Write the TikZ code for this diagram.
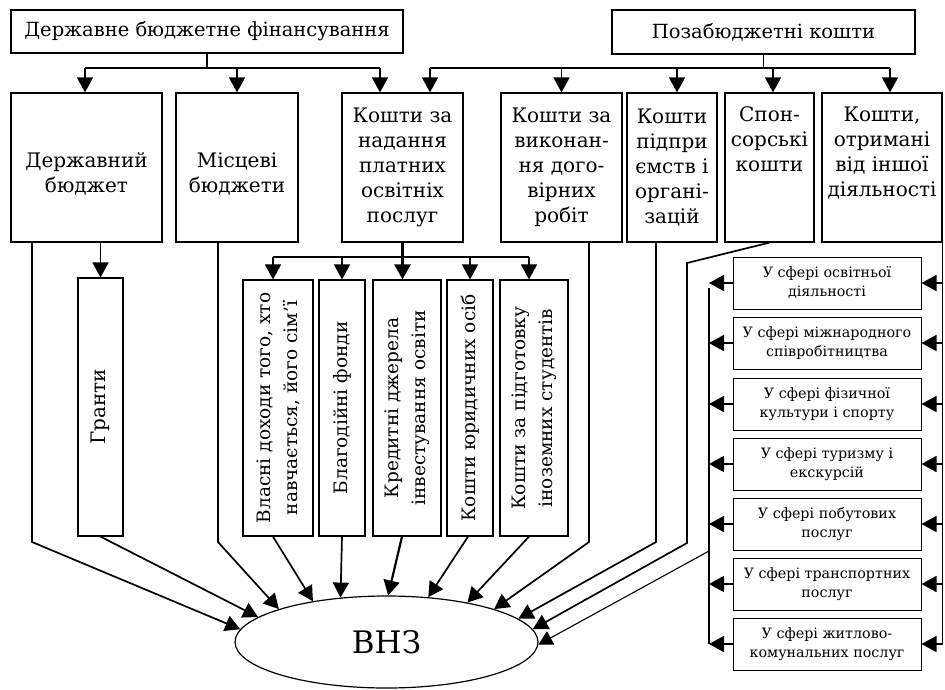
\documentclass[tikz,border=0pt]{standalone}
\usepackage{fontspec}
\setmainfont{DejaVu Serif}
\usetikzlibrary{arrows.meta,shapes.geometric}
\newcommand{\lowtwo}[2]{\raisebox{-13pt}[0pt][0pt]{\begin{tabular}{@{}c@{}}#1\\#2\end{tabular}}}
\begin{document}
\begin{tikzpicture}[x=1pt,y=-1pt,
  box/.style={draw, line width=1.2pt, inner sep=0pt, align=center, font=\fontsize{20}{25}\selectfont},
  tbox/.style={draw, line width=1.2pt, inner sep=0pt, align=center, font=\fontsize{19.5}{24}\selectfont},
  rbox/.style={draw, line width=1.2pt, inner sep=0pt, align=center, rotate=90, minimum width=256pt, font=\fontsize{18.5}{27}\selectfont},
  sbox/.style={draw, line width=1pt, inner sep=0pt, align=center, font=\fontsize{14.3}{19}\selectfont, minimum width=188pt, minimum height=52pt},
  ln/.style={line width=1.7pt},
  arr/.style={line width=1.7pt, -{Triangle[length=15pt,width=16pt]}},
  tarr/.style={line width=1.1pt, -{Triangle[length=14pt,width=15pt]}},
]
\useasboundingbox (0,0) rectangle (945,689);

% top sources
\node[tbox, minimum width=392pt, minimum height=43pt] (t1) at (207,31.5) {Державне бюджетне фінансування};
\node[tbox, minimum width=303pt, minimum height=44pt] (t2) at (763.5,32) {Позабюджетні кошти};

% main row
\node[box, minimum width=151pt, minimum height=149pt] (b1) at (86.5,167.5) {\lowtwo{Державний}{бюджет}};
\node[box, minimum width=122pt, minimum height=149pt] (b2) at (237,167.5) {\lowtwo{Місцеві}{бюджети}};
\node[box, minimum width=121pt, minimum height=149pt] (b3) at (402.5,167.5) {Кошти за\\надання\\платних\\освітніх\\послуг};
\node[box, minimum width=121pt, minimum height=149pt] (b4) at (561.5,167.5) {Кошти за\\виконан-\\ня дого-\\вірних\\робіт};
\node[box, minimum width=90pt, minimum height=149pt] (b5) at (672,167.5) {Кошти\\підпри\\ємств і\\органі-\\зацій};
\node[box, minimum width=89pt, minimum height=149pt] (b6) at (769.5,167.5) {Спон-\\сорські\\кошти\\\strut\\\strut};
\node[box, minimum width=120pt, minimum height=149pt] (b7) at (882,167.5) {Кошти,\\отримані\\від іншої\\діяльності\\\strut};

% rotated boxes
\node[rbox, minimum width=258pt, minimum height=45pt, font=\fontsize{20}{25}\selectfont] (gr) at (100.5,407) {Гранти};
\node[rbox, minimum height=70pt] (sA) at (278,408) {Власні доходи того, хто\\навчається, його сім’ї};
\node[rbox, minimum height=46pt] (sB) at (342,408) {Благодійні фонди};
\node[rbox, minimum height=68pt] (sC) at (407,408) {Кредитні джерела\\інвестування освіти};
\node[rbox, minimum height=46pt] (sD) at (470,408) {Кошти юридичних осіб};
\node[rbox, minimum height=68pt] (sE) at (534,408) {Кошти за підготовку\\іноземних студентів};

% right column
\node[sbox] (r1) at (827,283) {У сфері освітньої\\діяльності};
\node[sbox] (r2) at (827,343) {У сфері міжнародного\\співробітництва};
\node[sbox] (r3) at (827,404) {У сфері фізичної\\культури і спорту};
\node[sbox] (r4) at (827,464) {У сфері туризму і\\екскурсій};
\node[sbox] (r5) at (827,524) {У сфері побутових\\послуг};
\node[sbox] (r6) at (827,584) {У сфері транспортних\\послуг};
\node[sbox] (r7) at (827,644) {У сфері житлово-\\комунальних послуг};

% target
\node[ellipse, draw, line width=1.2pt, minimum width=303pt, minimum height=92pt, inner sep=0pt, font=\fontsize{31}{31}\selectfont] (vnz) at (386.5,642) {ВНЗ};

% left top bus
\coordinate (j1) at (207,68);
\coordinate (bl) at (85,68);
\coordinate (br) at (380,68);
\draw[ln] (t1.south) -- (j1);
\draw[ln] (bl) -- (br);
\draw[arr] (bl) -- (bl |- b1.north);
\draw[arr] (b2.north |- j1) -- (b2.north);
\draw[arr] (br) -- (br |- b3.north);

% right top bus
\coordinate (j2) at (763.5,68);
\coordinate (cl) at (430,68);
\coordinate (c5) at (677,68);
\coordinate (c6) at (773,68);
\coordinate (cr) at (890,68);
\draw[ln] (t2.south) -- (j2);
\draw[ln] (cl) -- (cr);
\draw[arr] (cl) -- (cl |- b3.north);
\draw[arr] (b4.north |- j2) -- (b4.north);
\draw[arr] (c5) -- (c5 |- b5.north);
\draw[arr] (c6) -- (c6 |- b6.north);
\draw[arr] (cr) -- (cr |- b7.north);

% grants
\draw[arr] (b1.south -| gr.east) -- (gr.east);

% bus under b3
\coordinate (k) at (402.5,257);
\coordinate (kl) at (273,257);
\coordinate (kr) at (529,257);
\draw[line width=2.6pt] (b3.south) -- (k);
\draw[ln] (kl) -- (kr);
\draw[arr] (kl) -- (kl |- sA.east);
\draw[arr] (sB.east |- k) -- (sB.east);
\draw[arr, line width=2.4pt] (k) -- (k |- sC.east);
\draw[arr] (sD.east |- k) -- (sD.east);
\draw[arr] (kr) -- (kr |- sE.east);

% flows into VNZ
\coordinate (p1) at (32,542);
\coordinate (p3) at (218,542);
\coordinate (p9) at (589,542);
\coordinate (p10) at (656,542);
\coordinate (q1) at (687,263);
\coordinate (q2) at (687,543);
\draw[arr] (b1.south -| p1) -- (p1) -- (vnz.175.3);
\draw[arr] (gr.west) -- (vnz.169.4);
\draw[arr] (b2.south -| p3) -- (p3) -- (vnz.163.3);
\draw[arr] ([xshift=-5pt]sA.west) -- (vnz.151.2);
\draw[arr] (sB.west) -- (vnz.136.7);
\draw[arr, line width=2.2pt] ([xshift=-5pt]sC.west) -- (vnz.88.2);
\draw[arr] ([xshift=-2pt]sD.west) -- (vnz.47.1);
\draw[arr] ([xshift=-5pt]sE.west) -- (vnz.26.7);
\draw[arr] (b4.south -| p9) -- (p9) -- (vnz.17.4);
\draw[arr] (b5.south -| p10) -- (p10) -- (vnz.10.6);
\draw[arr] (b6.south) -- (q1) -- (q2) -- (vnz.5.8);

% right column buses
\coordinate (lbt) at (709,288);
\coordinate (lbj) at (709,551);
\draw[ln] (lbt) -- (lbt |- r7.west);
\draw[ln] (b7.south east) -- (b7.south east |- r7.east);
\foreach \i in {1,...,7} {
  \draw[arr] (r\i.west) -- (r\i.west -| lbt);
  \draw[arr] (r\i.east -| b7.south east) -- (r\i.east);
}
\draw[tarr] (lbj) -- (vnz.-1.1);
\end{tikzpicture}
\end{document}
